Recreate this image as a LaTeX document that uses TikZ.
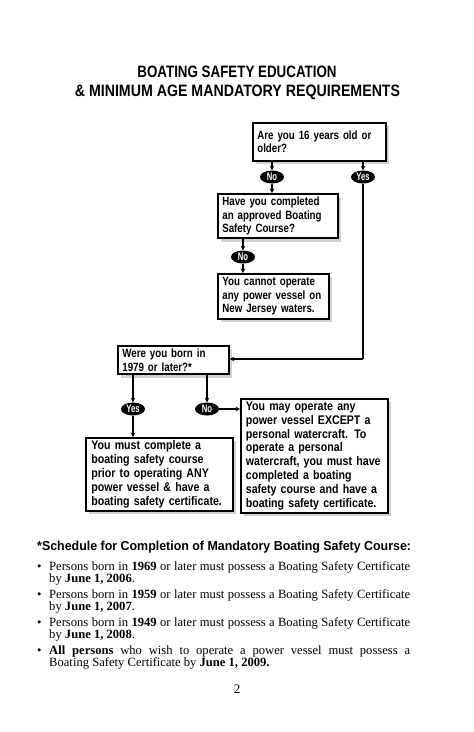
\documentclass[tikz,border=0pt]{standalone}
\usepackage{fontspec}
\setmainfont{Liberation Serif}
\newfontfamily\condA[FakeStretch=0.81]{Liberation Sans}
\newfontfamily\condO[FakeStretch=0.7]{Liberation Sans}
\newfontfamily\condT[FakeStretch=0.86]{Liberation Sans}
\newfontfamily\condB[FakeStretch=0.85]{Liberation Sans}
\newfontfamily\condC[FakeStretch=0.955]{Liberation Sans}
\usetikzlibrary{shapes.geometric,shadows,arrows.meta}
\begin{document}
\begin{tikzpicture}[x=1pt,y=-1pt,
  qbox/.style={draw=black, line width=1.7pt, fill=white, inner xsep=4.5pt, inner ysep=3pt,
    align=left, anchor=north west, font=\condA\bfseries\fontsize{12}{13.6}\selectfont,
    drop shadow={shadow xshift=3.5pt, shadow yshift=-3.5pt, fill=black!18, opacity=1}},
  abox/.style={qbox, inner xsep=2.5pt, font=\condB\bfseries\fontsize{12.5}{13.8}\selectfont},
  oval/.style={ellipse, fill=black, text=white, inner sep=0pt, minimum width=24pt, minimum height=13pt,
    font=\condO\bfseries\fontsize{11}{11}\selectfont},
  conn/.style={line width=1.4pt},
  arr/.style={conn, -{Stealth[length=4.5pt,width=4.5pt]}},
  item/.style={anchor=base west, text width=361pt, inner sep=0pt, align=justify,
    font=\fontsize{12.6}{12.4}\selectfont},
  dot/.style={anchor=base west, inner sep=0pt, font=\fontsize{12.6}{12.4}\selectfont}
]
\useasboundingbox (0,0) rectangle (474,732);
% title
\node (t1) at (237,72) {\condA\bfseries\fontsize{16.5}{18}\selectfont BOATING SAFETY EDUCATION};
\node (t2) at (237.5,92) {\condT\bfseries\fontsize{16.5}{18}\selectfont \&\ MINIMUM AGE MANDATORY REQUIREMENTS};
% boxes
\node[qbox, minimum width=133pt, minimum height=38pt, text width=124pt] (b1) at (252,122)
  {Are you 16 years old or\\older?};
\node[qbox, minimum width=120pt, minimum height=44pt, text width=111pt] (b2) at (217,193)
  {Have you completed\\an approved Boating\\Safety Course?};
\node[qbox, minimum width=111pt, minimum height=45pt, text width=102pt] (b3) at (217,273)
  {You cannot operate\\any power vessel on\\New Jersey waters.};
\node[qbox, minimum width=111pt, minimum height=28pt, text width=102pt] (b4) at (117,345)
  {Were you born in\\1979 or later?*};
\node[abox, minimum width=147pt, minimum height=73pt, text width=142pt] (b5) at (85,437)
  {\hspace*{3pt}You must complete a\\\hspace*{3pt}boating safety course\\\hspace*{3pt}prior to operating ANY\\\hspace*{3pt}power vessel \& have a\\\hspace*{3pt}boating safety certificate.};
\node[abox, minimum width=145pt, minimum height=114pt, text width=142pt] (b6) at (240,398)
  {\hspace*{2.5pt}You may operate any\\\hspace*{2.5pt}power vessel EXCEPT a\\\hspace*{2.5pt}personal watercraft. To\\\hspace*{2.5pt}operate a personal\\\hspace*{2.5pt}watercraft, you must have\\\hspace*{2.5pt}completed a boating\\\hspace*{2.5pt}safety course and have a\\\hspace*{2.5pt}boating safety certificate.};
% ovals
\node[oval] (n1) at (272,177) {No};
\node[oval] (y1) at (363,177) {Yes};
\node[oval] (n2) at (243,257) {No};
\node[oval] (y2) at (133,409) {Yes};
\node[oval] (n3) at (207,409) {No};
\coordinate (c1) at (363,359);
% connectors
\draw[arr] (n1 |- b1.south) -- (n1.north);
\draw[arr] (n1.south) -- (n1 |- b2.north);
\draw[arr] (y1 |- b1.south) -- (y1.north);
\draw[conn] (y1.south) -- (c1);
\draw[arr] (c1) -- (c1 -| b4.east);
\draw[arr] (n2 |- b2.south) -- (n2.north);
\draw[arr] (n2.south) -- (n2 |- b3.north);
\draw[arr] (y2 |- b4.south) -- (y2.north);
\draw[arr] (y2.south) -- (y2 |- b5.north);
\draw[arr] (n3 |- b4.south) -- (n3.north);
\draw[arr] (n3.east) -- (n3 -| b6.west);
% footnote
\node[anchor=base west, inner sep=0pt] (fh) at (37,550)
  {\condC\bfseries\fontsize{13}{13}\selectfont *Schedule for Completion of Mandatory Boating Safety Course:};
\node[dot] (d1) at (37,570) {\textbullet};
\node[item] (i1) at (49,570) {Persons born in \textbf{1969} or later must possess a Boating Safety Certificate by \textbf{June 1, 2006}.};
\node[dot] (d2) at (37,598) {\textbullet};
\node[item] (i2) at (49,598) {Persons born in \textbf{1959} or later must possess a Boating Safety Certificate by \textbf{June 1, 2007}.};
\node[dot] (d3) at (37,626) {\textbullet};
\node[item] (i3) at (49,626) {Persons born in \textbf{1949} or later must possess a Boating Safety Certificate by \textbf{June 1, 2008}.};
\node[dot] (d4) at (37,654) {\textbullet};
\node[item] (i4) at (49,654) {\textbf{All persons} who wish to operate a power vessel must possess a\linebreak Boating Safety Certificate by \textbf{June 1, 2009.}};
\node[anchor=base, inner sep=0pt] (pg) at (237,693) {\fontsize{13}{13}\selectfont 2};
\end{tikzpicture}
\end{document}
